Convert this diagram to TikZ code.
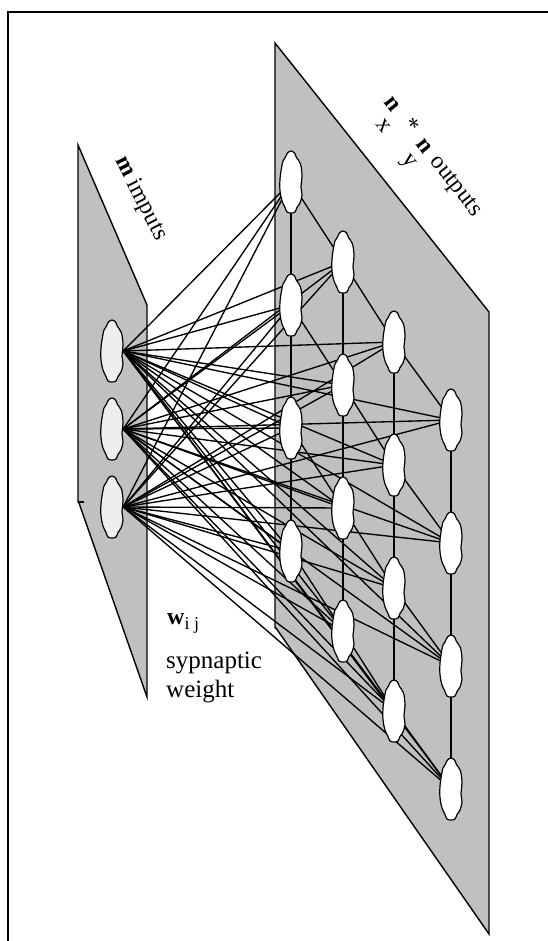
\documentclass[tikz,border=0pt]{standalone}
\usepackage{fontspec}
\setmainfont{Liberation Serif}
\usepackage{tikz}
\usetikzlibrary{shapes.geometric}
\definecolor{planegray}{HTML}{C0C0C0}
\definecolor{inlight}{HTML}{EEEEEE}
\pgfdeclarelayer{planes}
\pgfdeclarelayer{background}
\pgfsetlayers{planes,background,main}
% cloud-like outline of one neuron, around (0,0)
\newcommand{\blobshape}{plot[smooth cycle, tension=0.6] coordinates {
  (0,-31) (3.5,-29) (5.5,-24.5) (9.5,-18) (11,-6) (10,5) (11,13) (9,21)
  (6,25.5) (4,30) (0,31) (-4,30) (-6,25.5) (-9,19) (-11,9) (-11,-3)
  (-9.5,-14) (-8,-21) (-5.5,-25) (-3.5,-29)}}

\begin{document}
\begin{tikzpicture}[
  x=1pt, y=-1pt,
  neuron/.style={ellipse, minimum width=22pt, minimum height=62pt, inner sep=0pt},
  blob/.style={draw, line width=1.2pt},
  plane/.style={draw, fill=planegray, line width=1.4pt},
  link/.style={line width=1.35pt},
  lbl/.style={inner sep=0pt, font=\fontsize{24}{28}\selectfont}
]
\useasboundingbox (0,0) rectangle (548,941);

% ---- Frame ----
\draw[line width=1.4pt] (548,12) -- (8,12) -- (8,941);

% ---- Input layer ----
\foreach \i/\y in {1/351, 2/429, 3/507} {
  \node[neuron] (in\i) at (112,\y) {};
  \draw[blob, fill=inlight, shift={(in\i.center)}] \blobshape;
}

% ---- Output layer (n_x * n_y grid) ----
\foreach \c/\x/\y in {0/291/182, 1/343/262, 2/394/342, 3/451/420}
  \foreach \r in {0,...,3} {
    \node[neuron] (o\c\r) at (\x,\y+123*\r) {};
    \draw[blob, fill=white, shift={(o\c\r.center)}] \blobshape;
  }

% ---- Planes ----
\begin{pgfonlayer}{planes}
\draw[plane] (78,145) -- (147,305) -- (147,697) -- (79,503) -- (78,502) -- cycle;
\draw[line width=1.4pt] (78,502) -- (84,502);
\draw[plane] (275,43) -- (489,312) -- (489,934) -- (276,628) -- (275,628) -- cycle;
\end{pgfonlayer}

% ---- Connections ----
\begin{pgfonlayer}{background}
\foreach \c in {0,...,3}
  \draw[link] (o\c0.center) -- (o\c3.center);
\foreach \r in {0,...,3}
  \draw[link] (o0\r.center) -- (o1\r.center) -- (o2\r.center) -- (o3\r.center);
\foreach \i in {1,2,3}
  \foreach \c in {0,...,3}
    \foreach \r in {0,...,3}
      \draw[link] (in\i.east) -- (o\c\r);
\end{pgfonlayer}

% ---- Labels ----
\node[lbl, anchor=base west, rotate=-63] (inlbl) at (115,160) {\textbf{m} imputs};
\node[lbl, anchor=base west, rotate=-52] (outlbl) at (383,102)
  {\textbf{n}\raisebox{-20pt}{x}\hspace{4pt}*\hspace{12pt}\textbf{n}\hspace{-10pt}\raisebox{-21pt}{y}\hspace{7pt}outputs};
\node[lbl, anchor=base west] (wlbl) at (167,624)
  {\textbf{w}\raisebox{-5pt}{\fontsize{18}{18}\selectfont i j}};
\node[lbl, anchor=north west, align=left, font=\fontsize{25}{29}\selectfont] (wtxt) at (166,652)
  {sypnaptic\\weight};

\end{tikzpicture}
\end{document}
